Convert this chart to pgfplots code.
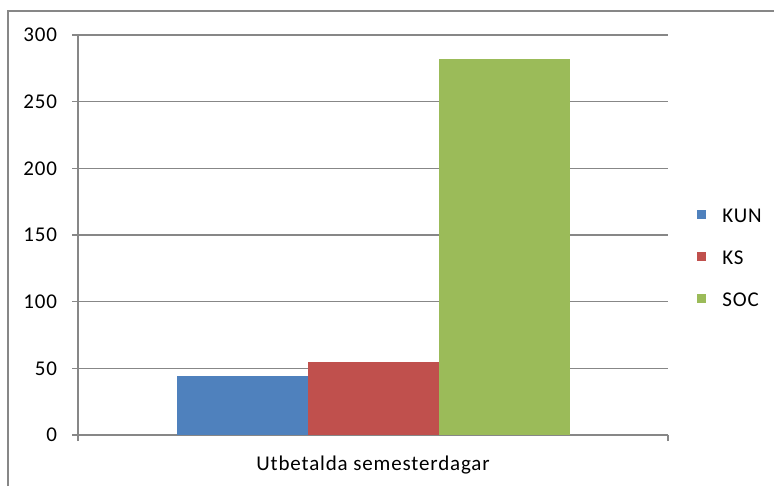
\documentclass[border=0pt]{standalone}
\usepackage{pgfplots}
\pgfplotsset{compat=1.18}
\usepackage{fontspec}
\setmainfont{Carlito}[LetterSpace=4]
\definecolor{kun}{HTML}{4F81BD}
\definecolor{ks}{HTML}{C0504D}
\definecolor{soc}{HTML}{9BBB59}
\definecolor{axgray}{HTML}{878787}
\begin{document}
\begin{tikzpicture}[x=1pt,y=1pt]
\useasboundingbox (0,0) rectangle (387,243);
\draw[axgray,line width=0.8pt] (4,0) -- (4,237.5) -- (387,237.5);
\begin{axis}[
 at={(39pt,25.5pt)}, anchor=south west,
 scale only axis, width=295pt, height=200pt,
 xmin=-0.5, xmax=0.5, ymin=0, ymax=300,
 ytick={0,50,...,300},
 xtick={-0.5,0.5}, xticklabels={},
 extra x ticks={0}, extra x tick labels={Utbetalda semesterdagar},
 extra x tick style={major tick length=0pt, grid=none, xticklabel style={yshift=-7pt}},
 axis x line*=bottom, axis y line*=left,
 axis line style={axgray, line width=0.8pt, -},
 tick style={axgray, line width=0.8pt},
 tick align=outside, major tick length=3pt,
 ymajorgrids, grid style={axgray, line width=0.8pt},
 ybar=0pt, bar width=65.5pt,
 font=\fontsize{10.5}{12}\selectfont,
 ticklabel style={font=\fontsize{10.5}{12}\selectfont, text=black},
 yticklabel style={xshift=-4pt},
 /pgf/number format/assume math mode=true,
 legend style={at={(axis description cs:1.049,0.444)}, anchor=west, draw=none, fill=none,
   inner sep=0pt, row sep=14pt, column sep=8pt, font=\fontsize{10.5}{12}\selectfont,
   nodes={inner sep=0pt, text height=7pt, text depth=0pt}},
 legend cell align=left,
 legend image code/.code={\fill[#1] (0pt,-2pt) rectangle (4.5pt,2.5pt);},
]
\addplot[fill=kun, draw=none] coordinates {(0,44)};
\addplot[fill=ks, draw=none] coordinates {(0,55)};
\addplot[fill=soc, draw=none] coordinates {(0,282)};
\legend{KUN,KS,SOC}
\end{axis}
\end{tikzpicture}
\end{document}
